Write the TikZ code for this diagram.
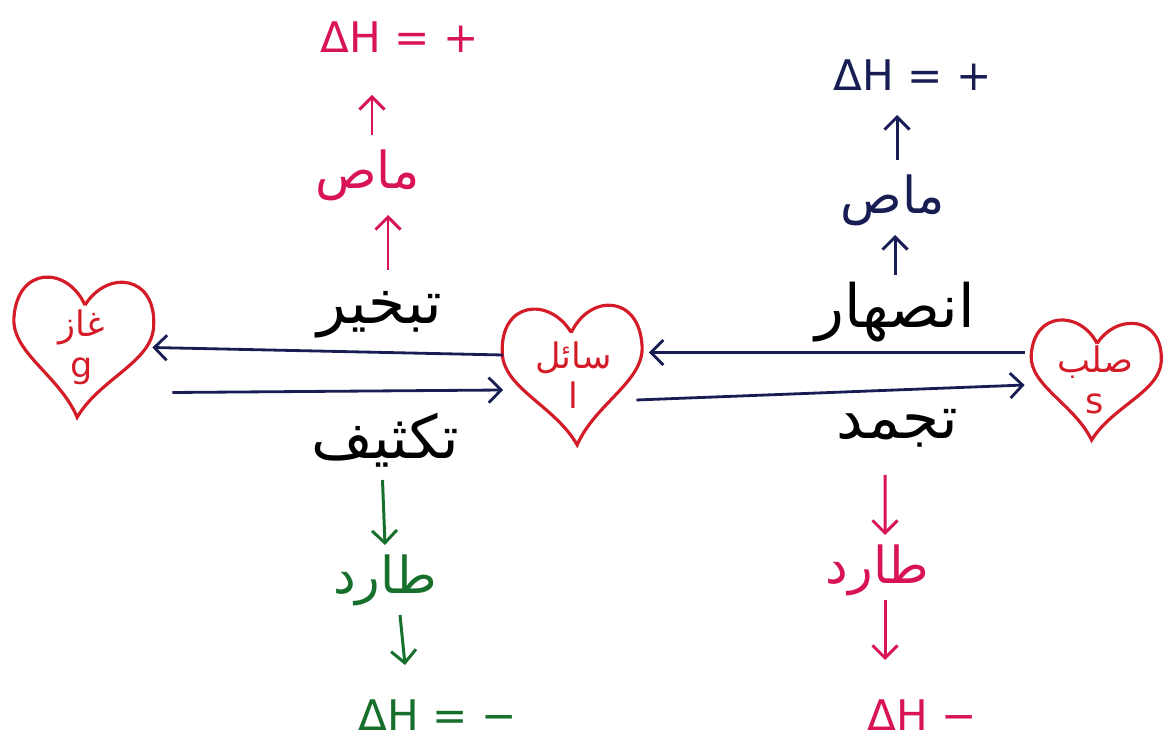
\documentclass[tikz,border=0pt]{standalone}
\usepackage{fontspec}
\setmainfont{DejaVu Sans}
\newfontfamily\arabicfont[Script=Arabic]{DejaVu Sans}
\TeXXeTstate=1
\usetikzlibrary{arrows.meta,positioning}
\definecolor{heartred}{RGB}{212,28,40}
\definecolor{rose}{RGB}{216,20,86}
\definecolor{navy}{RGB}{24,30,84}
\definecolor{leaf}{RGB}{22,112,44}
\newcommand{\ar}[1]{{\arabicfont\beginR #1\endR}}

\begin{document}
\begin{tikzpicture}[
      phase/.style={circle, minimum size=2.8cm, inner sep=0pt, align=center, text=heartred, font=\fontsize{20}{23}\selectfont},
      proc/.style={inner sep=1pt, font=\fontsize{34}{38}\selectfont},
      resp/.style={inner sep=1pt, font=\fontsize{29}{33}\selectfont},
      sign/.style={inner sep=1pt, font=\fontsize{24}{28}\selectfont},
      arr/.style={-{Straight Barb[length=2.5mm,width=5mm]}, line width=1.6pt, color=navy},
      varr/.style={-{Straight Barb[length=2.5mm,width=5mm]}, line width=1.7pt},
      heart/.pic={\draw[heartred, line width=1.8pt] (0,0.85) .. controls (0.4,1.6) and (1.4,1.55) .. (1.4,0.5)
        .. controls (1.4,-0.2) and (0.4,-0.6) .. (0,-1.4) .. controls (-0.4,-0.6) and (-1.4,-0.2) .. (-1.4,0.5)
        .. controls (-1.4,1.55) and (-0.4,1.6) .. (0,0.85);}
    ]
      \useasboundingbox (0,0) rectangle (23.4,14.8);
      % the three phases
      \node[phase] (gas) at (1.64,7.85) {\ar{غاز}\\ g};
      \node[phase] (liq) at (11.47,7.3) {\ar{سائل}\\ l};
      \node[phase] (sol) at (21.9,7.2) {\ar{صلب}\\ s};
      \pic[rotate=-4] at (gas) {heart};
      \pic[rotate=3] at (liq) {heart};
      \pic[xscale=0.93, yscale=0.86, rotate=-3] at (sol) {heart};
      % transitions
      \draw[arr] ([yshift=0.4cm]liq.west) -- (gas.east);
      \draw[arr] ([xshift=0.4cm,yshift=-0.9cm]gas.east) -- ([yshift=-0.3cm]liq.west);
      \draw[arr] ([yshift=0.55cm]sol.west) -- ([xshift=0.1cm,yshift=0.45cm]liq.east);
      \draw[arr] ([xshift=-0.15cm,yshift=-0.5cm]liq.east) -- ([yshift=-0.1cm]sol.west);
      % evaporation
      \node[proc] (evap) at (7.6,8.5) {\ar{تبخير}};
      \node[resp, text=rose] (endoL) at (7.35,11.3) {\ar{ماص}};
      \node[sign, text=rose] (dhL) at (8.0,14.05) {ΔH = +};
      \draw[varr, rose] ([xshift=0.16cm,yshift=0.9cm]evap.center) -- ([xshift=0.16cm,yshift=-0.8cm]endoL.center -| evap.center);
      \draw[varr, rose] ([xshift=0.09cm,yshift=0.8cm]endoL.center) -- ([xshift=0.09cm,yshift=-1.15cm]dhL.center -| endoL.center);
      % melting
      \node[proc] (melt) at (17.9,8.55) {\ar{انصهار}};
      \node[resp, text=navy] (endoR) at (17.86,10.8) {\ar{ماص}};
      \node[sign, text=navy] (dhR) at (18.25,13.3) {ΔH = +};
      \draw[varr, navy] ([yshift=0.75cm]melt.center) -- ([yshift=-0.7cm]endoR.center -| melt.center);
      \draw[varr, navy] ([xshift=0.08cm,yshift=0.8cm]endoR.center) -- ([xshift=0.08cm,yshift=-0.8cm]dhR.center -| endoR.center);
      % condensation
      \node[proc] (cond) at (7.7,6.0) {\ar{تكثيف}};
      \node[resp, text=leaf] (exoL) at (7.7,3.2) {\ar{طارد}};
      \node[sign, text=leaf] (dhC) at (8.75,0.5) {ΔH = −};
      \draw[varr, leaf] ([xshift=-0.05cm,yshift=-0.8cm]cond.center) -- ([yshift=0.7cm]exoL.center);
      \draw[varr, leaf] ([xshift=0.3cm,yshift=-0.7cm]exoL.center) -- ([xshift=0.4cm,yshift=1.0cm]dhC.center -| exoL.center);
      % freezing
      \node[proc] (frz) at (17.95,6.24) {\ar{تجمد}};
      \node[resp, text=rose] (exoR) at (17.55,3.4) {\ar{طارد}};
      \node[sign, text=rose] (dhF) at (18.45,0.5) {ΔH −};
      \draw[varr, rose] ([xshift=-0.25cm,yshift=-0.94cm]frz.center) -- ([xshift=0.15cm,yshift=0.7cm]exoR.center);
      \draw[varr, rose] ([xshift=0.15cm,yshift=-0.6cm]exoR.center) -- ([xshift=0.15cm,yshift=1.1cm]dhF.center -| exoR.center);
    \end{tikzpicture}
\end{document}
